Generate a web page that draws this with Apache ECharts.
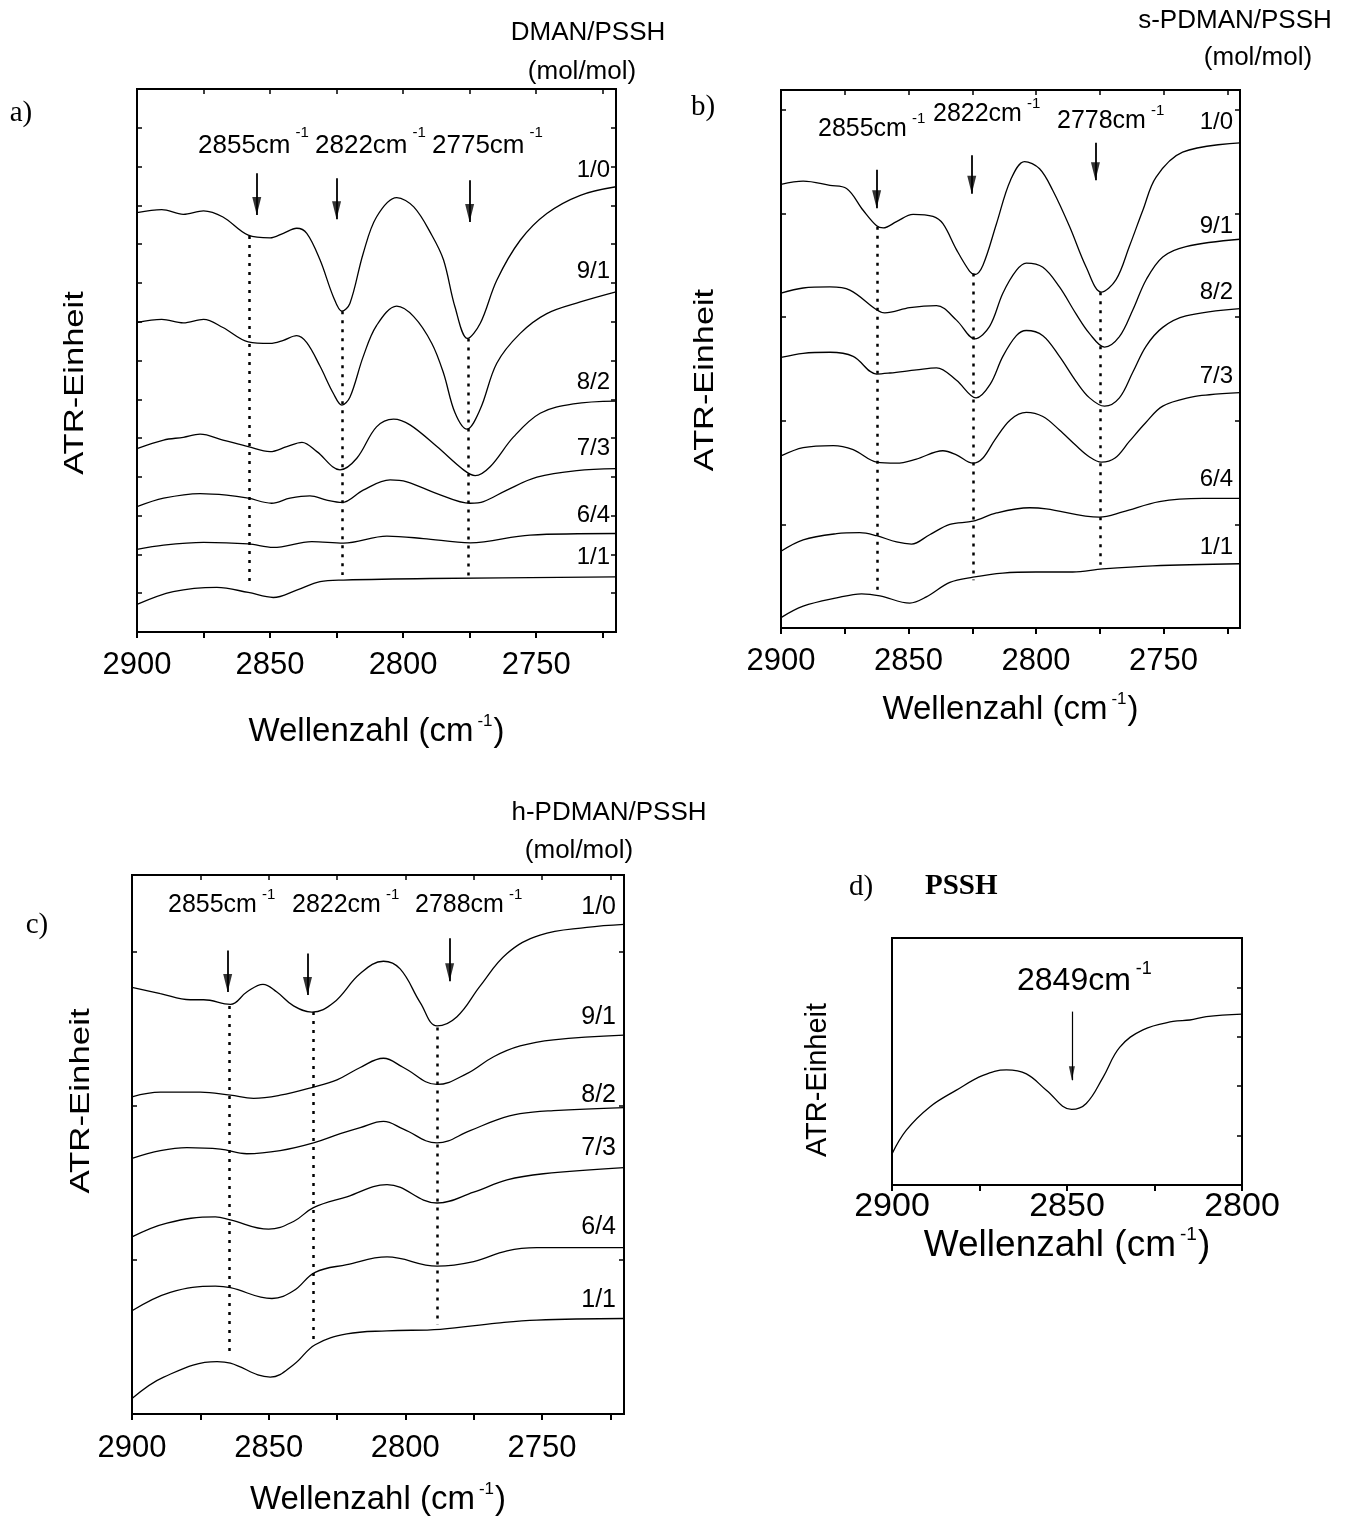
<!DOCTYPE html>
<html>
<head>
<meta charset="utf-8">
<title>ATR-Spektren DMAN / PDMAN / PSSH</title>
<script src="https://cdn.jsdelivr.net/npm/echarts@6/dist/echarts.min.js"></script>
<style>
  html, body { margin: 0; padding: 0; background: #fff; }
  #chart { width: 1352px; height: 1521px; }
</style>
</head>
<body>
<div id="chart"></div>
<script>
// ---------- axis values (cm-1) ----------
const wnTicks = [2900, 2875, 2850, 2825, 2800, 2775, 2750, 2725];
const wnLabels = [2900, 2850, 2800, 2750];
const psshTicks = [2900, 2875, 2850, 2825, 2800];
const psshLabels = [2900, 2850, 2800];
const ratios = ['1/0', '9/1', '8/2', '7/3', '6/4', '1/1'];

// ---------- a) DMAN/PSSH : [Wellenzahl, ATR-Einheit (versetzt)] ----------
const dman_10 = [[2900,10.81],[2890.7,10.89],[2882.6,10.77],[2875,10.86],[2867.7,10.70],[2858.2,10.23],[2850,10.16],[2845,10.28],[2840,10.41],[2836.2,10.28],[2831.2,9.59],[2826.2,8.64],[2823,8.27],[2820,8.47],[2815,9.76],[2810,10.70],[2802.4,11.20],[2796,10.96],[2789.2,10.23],[2784.8,9.59],[2780.5,8.38],[2775.8,7.57],[2771,7.96],[2764.8,9.07],[2756,10.10],[2746,10.79],[2733.4,11.26],[2720,11.48]];
const dman_91 = [[2900,7.98],[2890.7,8.06],[2882.6,7.97],[2875,8.06],[2867.7,7.85],[2858.2,7.48],[2850,7.44],[2845,7.52],[2840,7.64],[2836.2,7.46],[2831.2,6.85],[2826.2,6.15],[2823,5.85],[2820,6.05],[2815,7.10],[2810,7.90],[2802.4,8.40],[2796,8.13],[2789.2,7.44],[2784.8,6.67],[2780.5,5.65],[2776,5.23],[2771,5.75],[2764.8,6.93],[2756,7.70],[2746,8.21],[2733.4,8.51],[2720,8.77]];
const dman_82 = [[2900,4.73],[2890,4.95],[2882.6,5.02],[2876.3,5.10],[2867.7,4.95],[2858.2,4.78],[2850,4.65],[2843.7,4.78],[2838,4.89],[2832.4,4.65],[2823.7,4.18],[2817.4,4.48],[2810,5.29],[2803.6,5.49],[2797.4,5.34],[2787.3,4.78],[2777.3,4.18],[2772.9,4.03],[2767.3,4.26],[2758.5,5.03],[2748.5,5.64],[2736,5.88],[2720,5.95]];
const dman_73 = [[2900,3.23],[2890,3.45],[2876.3,3.57],[2866.3,3.53],[2858.2,3.45],[2849.4,3.32],[2842.5,3.45],[2835,3.51],[2828.7,3.40],[2823,3.34],[2815,3.66],[2804.9,3.92],[2798.6,3.87],[2787.3,3.57],[2774.8,3.32],[2769.8,3.36],[2761,3.66],[2749.7,3.99],[2734.7,4.16],[2720,4.21]];
const dman_64 = [[2900,2.13],[2890,2.24],[2875,2.31],[2858.2,2.27],[2848.8,2.18],[2834.3,2.33],[2822.4,2.29],[2806.1,2.47],[2792.4,2.41],[2774.8,2.30],[2752.3,2.50],[2720,2.54]];
const dman_11 = [[2900,0.71],[2886.4,1.04],[2870,1.15],[2858.2,1.02],[2848.8,0.89],[2840,1.08],[2831.2,1.30],[2822.4,1.34],[2790,1.38],[2720,1.42]];
// peak markers: [x, y from, y to]
const dman_peaks = [[2858, 10.21, 1.29], [2823, 8.27, 1.47], [2775.5, 7.57, 1.42]];
const dman_arrows = [[2855, 11.83, 10.75], [2825, 11.70, 10.64], [2775, 11.65, 10.57]];
const dman_peakText = ['2855', '2822', '2775'];

// ---------- b) s-PDMAN/PSSH ----------
const sp_10 = [[2900,4.28],[2891.3,4.31],[2880.8,4.27],[2874.3,4.24],[2867.8,4.03],[2862.5,3.88],[2859.9,3.86],[2854.7,3.92],[2848.2,3.99],[2840.4,3.97],[2836.5,3.90],[2831.2,3.65],[2826,3.44],[2824,3.41],[2820.8,3.50],[2815.5,3.90],[2810,4.32],[2804.5,4.50],[2798.6,4.43],[2793.4,4.22],[2786.8,3.87],[2780.3,3.48],[2774.4,3.24],[2768.6,3.36],[2763.4,3.68],[2758.1,4.03],[2752.9,4.35],[2742.5,4.59],[2720,4.68]];
const sp_91 = [[2900,3.23],[2891.3,3.28],[2880.8,3.29],[2873,3.26],[2862.5,3.07],[2859.3,3.04],[2849.5,3.09],[2839,3.11],[2831.2,2.97],[2824,2.79],[2818.2,2.91],[2813,3.23],[2807.7,3.45],[2803.8,3.52],[2797.3,3.48],[2790.8,3.29],[2784.3,3.03],[2779,2.84],[2773.1,2.71],[2767.3,2.81],[2762,3.07],[2756.8,3.36],[2750.3,3.58],[2741.2,3.68],[2720,3.75]];
const sp_82 = [[2900,2.61],[2891.3,2.65],[2880.8,2.66],[2871.7,2.62],[2862.5,2.45],[2857.3,2.46],[2846.9,2.49],[2839,2.51],[2831.2,2.39],[2823.5,2.22],[2818,2.35],[2813,2.62],[2807.7,2.82],[2803.8,2.87],[2797.3,2.82],[2790.8,2.62],[2784.3,2.38],[2779,2.22],[2773.1,2.14],[2767.3,2.22],[2762,2.47],[2756.8,2.72],[2750.3,2.90],[2741.2,3.01],[2720,3.08]];
const sp_73 = [[2900,1.66],[2891.3,1.74],[2879.5,1.76],[2871.7,1.72],[2862.5,1.60],[2854.7,1.59],[2846.9,1.63],[2836.5,1.71],[2831.2,1.67],[2824.7,1.59],[2820.8,1.64],[2816,1.82],[2810,2.01],[2803.8,2.08],[2797.3,2.04],[2790.8,1.91],[2784.3,1.76],[2779,1.65],[2774.4,1.60],[2769,1.64],[2763.4,1.80],[2757,1.98],[2750.3,2.14],[2738.6,2.23],[2732,2.25],[2720,2.27]];
const sp_64 = [[2900,0.74],[2891.3,0.85],[2878.2,0.91],[2869.1,0.92],[2862.5,0.89],[2854.7,0.83],[2848.8,0.81],[2841.7,0.90],[2833.8,1.00],[2824.7,1.03],[2815.5,1.11],[2802.5,1.16],[2796,1.15],[2775.1,1.07],[2766,1.12],[2751.6,1.22],[2734.6,1.25],[2720,1.25]];
const sp_11 = [[2900,0.10],[2891.3,0.21],[2878.2,0.29],[2868.4,0.33],[2861.2,0.31],[2849.5,0.24],[2843,0.30],[2833.8,0.44],[2824.7,0.49],[2813,0.53],[2800,0.54],[2785.6,0.54],[2773.8,0.57],[2754.2,0.60],[2720,0.62]];
const sp_peaks = [[2862.4, 3.87, 0.34], [2824.6, 3.42, 0.46], [2774.7, 3.24, 0.61]];
const sp_arrows = [[2862.5, 4.42, 4.05], [2825.2, 4.56, 4.19], [2776.7, 4.68, 4.32]];
const sp_peakText = ['2855', '2822', '2778'];

// ---------- c) h-PDMAN/PSSH ----------
const hp_10 = [[2900,2.77],[2889.6,2.73],[2878.7,2.69],[2873.8,2.69],[2864,2.66],[2858,2.74],[2852.1,2.79],[2847,2.74],[2840.9,2.65],[2834.2,2.61],[2826.3,2.67],[2816.5,2.86],[2808,2.94],[2801.9,2.89],[2794.5,2.67],[2788.4,2.52],[2781.1,2.58],[2772.6,2.78],[2762.8,2.99],[2750.7,3.11],[2733.6,3.16],[2720,3.18]];
const hp_91 = [[2900,2.06],[2889.6,2.09],[2875,2.09],[2864,2.07],[2855.5,2.05],[2845.8,2.07],[2834.2,2.12],[2825,2.17],[2816.5,2.25],[2808,2.31],[2800.7,2.25],[2788.4,2.14],[2777.5,2.21],[2767.7,2.32],[2758,2.39],[2745.8,2.43],[2720,2.46]];
const hp_82 = [[2900,1.66],[2889.6,1.71],[2879.9,1.73],[2867.7,1.72],[2858,1.69],[2845.8,1.71],[2833.6,1.76],[2823.8,1.82],[2816.5,1.86],[2808,1.90],[2800.7,1.85],[2788.4,1.76],[2776.3,1.84],[2766.5,1.91],[2758,1.95],[2745.8,1.97],[2720,1.99]];
const hp_73 = [[2900,1.15],[2887.2,1.24],[2869.5,1.28],[2864,1.26],[2850,1.20],[2840.9,1.25],[2833.6,1.34],[2821.4,1.41],[2806.7,1.49],[2788.4,1.37],[2775,1.44],[2762.8,1.52],[2749.5,1.56],[2720,1.60]];
const hp_64 = [[2900,0.67],[2886,0.79],[2869.5,0.83],[2864,0.82],[2848.8,0.75],[2840.9,0.80],[2833,0.92],[2821.4,0.97],[2806.7,1.02],[2788.4,0.96],[2775,0.99],[2762.8,1.06],[2751.9,1.08],[2720,1.08]];
const hp_11 = [[2900,0.10],[2888.4,0.24],[2868.9,0.34],[2864,0.33],[2849.4,0.24],[2840.9,0.32],[2833,0.45],[2821.4,0.52],[2806.7,0.54],[2787.2,0.55],[2766.5,0.59],[2751.9,0.61],[2720,0.62]];
const hp_peaks = [[2864.3, 2.65, 0.37], [2833.6, 2.61, 0.45], [2788.2, 2.51, 0.58]];
const hp_arrows = [[2865, 3.01, 2.74], [2835.8, 2.99, 2.72], [2783.8, 3.09, 2.81]];
const hp_peakText = ['2855', '2822', '2788'];

// ---------- d) PSSH ----------
const pssh = [[2900,0.63],[2895.9,1.11],[2889.2,1.58],[2881.6,1.92],[2874,2.22],[2867.3,2.33],[2861.6,2.25],[2855.9,1.92],[2848.7,1.53],[2844.5,1.65],[2839.7,2.18],[2834.9,2.79],[2828.3,3.14],[2819.7,3.31],[2814.9,3.34],[2810.2,3.41],[2800,3.46]];
const pssh_arrows = [[2848.6, 3.51, 2.12]];
const pssh_peakText = ['2849'];

// ---------- styling ----------
const BLACK = '#000';
const SANS = '"Liberation Sans", Arial, Helvetica, sans-serif';
const SERIF = '"Liberation Serif", "Times New Roman", serif';

const panels = [
  { grid: { left: 137, top: 89, width: 479, height: 543 }, xMin: 2720, xMax: 2900, yMax: 14,
    ticks: wnTicks, labels: wnLabels, yTicks: [1,2,3,4,5,6,7,8,9,10,11,12,13],
    curves: [dman_10, dman_91, dman_82, dman_73, dman_64, dman_11], smooth: 0.35,
    peaks: dman_peaks, arrows: dman_arrows, head: [9, 18],
    tickSize: 31, labelMargin: 18, nameSize: 33, supSize: 17, nameGap: 81,
    leftTicks: true, topTicks: true },
  { grid: { left: 781, top: 90, width: 459, height: 538 }, xMin: 2720, xMax: 2900, yMax: 5.19,
    ticks: wnTicks, labels: wnLabels, yTicks: [1,2,3,4,5],
    curves: [sp_10, sp_91, sp_82, sp_73, sp_64, sp_11], smooth: 0.35,
    peaks: sp_peaks, arrows: sp_arrows, head: [9, 18],
    tickSize: 31, labelMargin: 18, nameSize: 33, supSize: 17, nameGap: 63,
    leftTicks: true, topTicks: true },
  { grid: { left: 132, top: 875, width: 492, height: 539 }, xMin: 2720, xMax: 2900, yMax: 3.5,
    ticks: wnTicks, labels: wnLabels, yTicks: [1,2,3],
    curves: [hp_10, hp_91, hp_82, hp_73, hp_64, hp_11], smooth: 0.4,
    peaks: hp_peaks, arrows: hp_arrows, head: [9, 18],
    tickSize: 31, labelMargin: 19, nameSize: 33, supSize: 17, nameGap: 67,
    leftTicks: true, topTicks: true },
  { grid: { left: 892, top: 938, width: 350, height: 247 }, xMin: 2800, xMax: 2900, yMax: 5,
    ticks: psshTicks, labels: psshLabels, yTicks: [1,2,3,4],
    curves: [pssh], smooth: 0.4,
    peaks: [], arrows: pssh_arrows, head: [6, 14],
    tickSize: 34, labelMargin: 5, nameSize: 37, supSize: 19, nameGap: 34,
    leftTicks: false, topTicks: false }
];

const grids = [], xAxes = [], yAxes = [], series = [];

panels.forEach((p, i) => {
  grids.push(Object.assign({ show: true, borderColor: BLACK, borderWidth: 2, containLabel: false }, p.grid));

  // bottom wavenumber axis
  xAxes.push({
    gridIndex: i, type: 'value', position: 'bottom', inverse: true, min: p.xMin, max: p.xMax,
    axisLine: { show: true, onZero: false, lineStyle: { color: BLACK, width: 2 } },
    axisTick: { show: true, inside: false, length: 6, customValues: p.ticks, lineStyle: { color: BLACK, width: 2 } },
    axisLabel: { show: true, customValues: p.labels, margin: p.labelMargin, color: BLACK,
                 fontFamily: SANS, fontSize: p.tickSize, formatter: v => String(v) },
    splitLine: { show: false },
    name: '{t|Wellenzahl (cm}{s|-1}{t|)}', nameLocation: 'middle', nameGap: p.nameGap,
    nameTextStyle: {
      rich: {
        t: { fontFamily: SANS, fontSize: p.nameSize, color: BLACK, padding: [2, 0, 0, 0] },
        s: { fontFamily: SANS, fontSize: p.supSize, color: BLACK, verticalAlign: 'top', padding: [0, 1, 0, 4] }
      }
    }
  });
  // top frame axis
  xAxes.push({
    gridIndex: i, type: 'value', position: 'top', inverse: true, min: p.xMin, max: p.xMax,
    axisLine: { show: true, onZero: false, lineStyle: { color: BLACK, width: 2 } },
    axisTick: { show: p.topTicks, inside: true, length: 5, customValues: p.ticks.slice(1), lineStyle: { color: BLACK, width: 1.5 } },
    axisLabel: { show: false }, splitLine: { show: false }
  });
  // left and right frame axes
  yAxes.push({
    gridIndex: i, type: 'value', position: 'left', min: 0, max: p.yMax,
    axisLine: { show: true, onZero: false, lineStyle: { color: BLACK, width: 2 } },
    axisTick: { show: p.leftTicks, inside: true, length: 5, customValues: p.yTicks, lineStyle: { color: BLACK, width: 1.5 } },
    axisLabel: { show: false }, splitLine: { show: false }
  });
  yAxes.push({
    gridIndex: i, type: 'value', position: 'right', min: 0, max: p.yMax,
    axisLine: { show: true, onZero: false, lineStyle: { color: BLACK, width: 2 } },
    axisTick: { show: true, inside: true, length: 5, customValues: p.yTicks, lineStyle: { color: BLACK, width: 1.5 } },
    axisLabel: { show: false }, splitLine: { show: false }
  });

  // spectra
  p.curves.forEach((c, k) => {
    series.push({
      type: 'line', name: p.curves.length > 1 ? ratios[k] : 'PSSH',
      xAxisIndex: 2 * i, yAxisIndex: 2 * i, data: c,
      smooth: p.smooth, showSymbol: false, symbol: 'none', clip: true, silent: true,
      lineStyle: { color: BLACK, width: 1.3 }
    });
  });

  // peak guides (dotted) and arrows (shaft + head)
  const guideLines = p.peaks.map(d => [
    { coord: [d[0], d[1]], lineStyle: { type: [3, 6], width: 2.5, color: BLACK } },
    { coord: [d[0], d[2]] }
  ]);
  const arrowShafts = p.arrows.map(d => [
    { coord: [d[0], d[1]], lineStyle: { type: 'solid', width: i === 3 ? 1.2 : 1.8, color: BLACK } },
    { coord: [d[0], d[2]] }
  ]);
  series.push({
    type: 'scatter', xAxisIndex: 2 * i, yAxisIndex: 2 * i, silent: true, z: 5,
    symbol: 'triangle', symbolSize: p.head, symbolRotate: 180, symbolOffset: [0, -p.head[1] / 2],
    itemStyle: { color: BLACK },
    data: p.arrows.map(d => [d[0], d[2]]),
    markLine: {
      silent: true, symbol: 'none', animation: false, label: { show: false },
      data: guideLines.concat(arrowShafts)
    }
  });
});

// ---------- texts ----------
function plain(x, y, text, font, align, extra) {
  return Object.assign({
    type: 'text', x: x, y: y, silent: true, z: 10,
    style: { text: text, font: font, fill: BLACK, align: align || 'center', verticalAlign: 'middle',
             textAlign: align || 'center', textVerticalAlign: 'middle' }
  }, extra || {});
}
function peakLabel(x, y, value, size, sup, lift) {
  return {
    type: 'text', x: x, y: y - lift / 2, silent: true, z: 10,
    style: {
      text: '{t|' + value + 'cm}{s|-1}', fill: BLACK,
      align: 'left', verticalAlign: 'middle', textAlign: 'left', textVerticalAlign: 'middle',
      rich: {
        t: { fontFamily: SANS, fontSize: size, fill: BLACK, padding: [lift, 0, 0, 0] },
        s: { fontFamily: SANS, fontSize: sup, fill: BLACK, verticalAlign: 'top', padding: [0, 0, 0, 5] }
      }
    }
  };
}
function yTitle(x, y, size, stretch) {
  return {
    type: 'text', x: x, y: y, rotation: Math.PI / 2, scaleX: stretch, scaleY: 1, silent: true, z: 10,
    style: { text: 'ATR-Einheit', font: size + 'px ' + SANS, fill: BLACK,
             align: 'center', verticalAlign: 'middle', textAlign: 'center', textVerticalAlign: 'middle' }
  };
}

const graphics = [
  // panel letters
  plain(21, 113, 'a)', '29px ' + SERIF),
  plain(703, 107, 'b)', '29px ' + SERIF),
  plain(37, 925, 'c)', '29px ' + SERIF),
  plain(861, 887, 'd)', '29px ' + SERIF),
  plain(925, 887, 'PSSH', 'bold 29px ' + SERIF, 'left'),
  // series group titles
  plain(588, 33, 'DMAN/PSSH', '26px ' + SANS),
  plain(582, 72, '(mol/mol)', '26px ' + SANS),
  plain(1235, 21, 's-PDMAN/PSSH', '26px ' + SANS),
  plain(1258, 58, '(mol/mol)', '26px ' + SANS),
  plain(609, 813, 'h-PDMAN/PSSH', '26px ' + SANS),
  plain(579, 851, '(mol/mol)', '26px ' + SANS),
  // y titles
  yTitle(76, 383, 27, 1.28),
  yTitle(706, 380, 27, 1.27),
  yTitle(82, 1101, 27, 1.29),
  yTitle(818, 1080, 29, 1.0),
  // peak labels
  peakLabel(198, 146, dman_peakText[0], 26, 15, 8),
  peakLabel(315, 146, dman_peakText[1], 26, 15, 8),
  peakLabel(432, 146, dman_peakText[2], 26, 15, 8),
  peakLabel(818, 129, sp_peakText[0], 25, 15, 5),
  peakLabel(933, 114, sp_peakText[1], 25, 15, 5),
  peakLabel(1057, 121, sp_peakText[2], 25, 15, 5),
  peakLabel(168, 905, hp_peakText[0], 25, 15, 5),
  peakLabel(292, 905, hp_peakText[1], 25, 15, 5),
  peakLabel(415, 905, hp_peakText[2], 25, 15, 5),
  peakLabel(1017, 981, pssh_peakText[0], 32, 18, 5)
];

// ratio labels beside each spectrum
const ratioPos = [
  { right: 610, ys: [170, 271, 382, 448, 515, 557], size: 24 },
  { right: 1233, ys: [122, 226, 292, 376, 479, 547], size: 24 },
  { right: 616, ys: [907, 1017, 1095, 1148, 1227, 1300], size: 25 }
];
ratioPos.forEach(r => {
  r.ys.forEach((y, k) => graphics.push(plain(r.right, y, ratios[k], r.size + 'px ' + SANS, 'right')));
});

const chart = echarts.init(document.getElementById('chart'), null, { renderer: 'canvas' });
chart.setOption({
  backgroundColor: '#fff',
  animation: false,
  grid: grids,
  xAxis: xAxes,
  yAxis: yAxes,
  series: series,
  graphic: graphics
});
</script>
</body>
</html>
